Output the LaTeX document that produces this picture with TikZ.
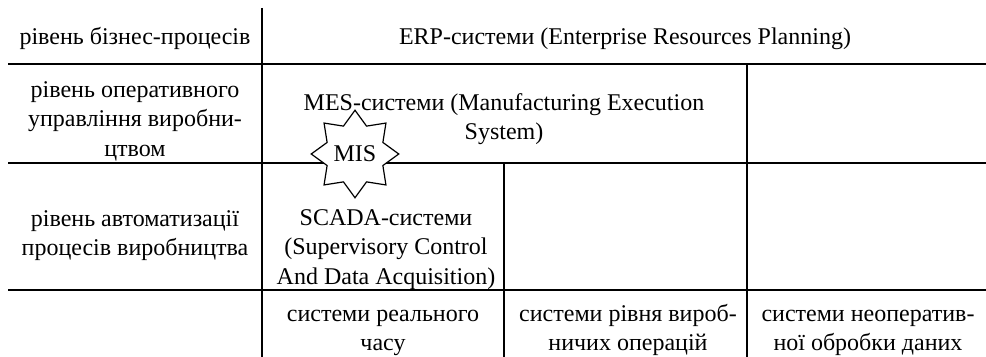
\documentclass[tikz,border=0pt]{standalone}
\usepackage{fontspec}
\setmainfont{Liberation Serif}
\usetikzlibrary{shapes.geometric}
\tikzset{%
	cell/.style={
		align=center,
		inner sep=0pt,
		font=\fontsize{12}{14.8}\selectfont
	},
	grid line/.style={
		line width=1pt
	},
	mis star/.style={
		star,
		star points=8,
		star point ratio=1.45,
		draw,
		fill=white,
		line width=0.6pt,
		minimum size=42.5pt,
		inner sep=0pt,
		font=\fontsize{12}{14.8}\selectfont
	},
}

\begin{document}
\begin{tikzpicture}[x=0.5pt,y=-0.5pt]
			\useasboundingbox (0,0) rectangle (986,357);

			% Draw the table lines
			\draw[grid line] (262,8) -- (262,357);
			\draw[grid line] (8,64) -- (986,64);
			\draw[grid line] (8,163) -- (986,163);
			\draw[grid line] (8,290) -- (986,290);
			\draw[grid line] (747,64) -- (747,357);
			\draw[grid line] (504,163) -- (504,357);

			% Levels on the left (struts keep the lines on a fixed grid)
			\node[cell] (business) at (135,39) {\strut рівень бізнес-процесів\strut};
			\node[cell] (operative) at (135,121) {\strut рівень оперативного\\управління виробни-\\цтвом\strut};
			\node[cell] (automation) at (135,235) {\strut рівень автоматизації\\процесів виробництва\strut};

			% Systems of each level
			\node[cell] (erp) at (625,39) {\strut ERP-системи (Enterprise Resources Planning)\strut};
			\node[cell] (mes) at (504,119) {\strut MES-системи (Manufacturing Execution\\System)\strut};
			\node[cell] (scada) at (386,249) {\strut SCADA-системи\\(Supervisory Control\\And Data Acquisition)\strut};

			% Bottom row
			\node[cell] (realtime) at (383,330) {\strut системи реального\\часу\strut};
			\node[cell] (operations) at (628,330) {\strut системи рівня вироб-\\ничих операцій\strut};
			\node[cell] (offline) at (868,330) {\strut системи неоператив-\\ної обробки даних\strut};

			% Draw the star on top of the line
			\node[mis star] (mis) at (355,154) {MIS};

		\end{tikzpicture}
\end{document}
